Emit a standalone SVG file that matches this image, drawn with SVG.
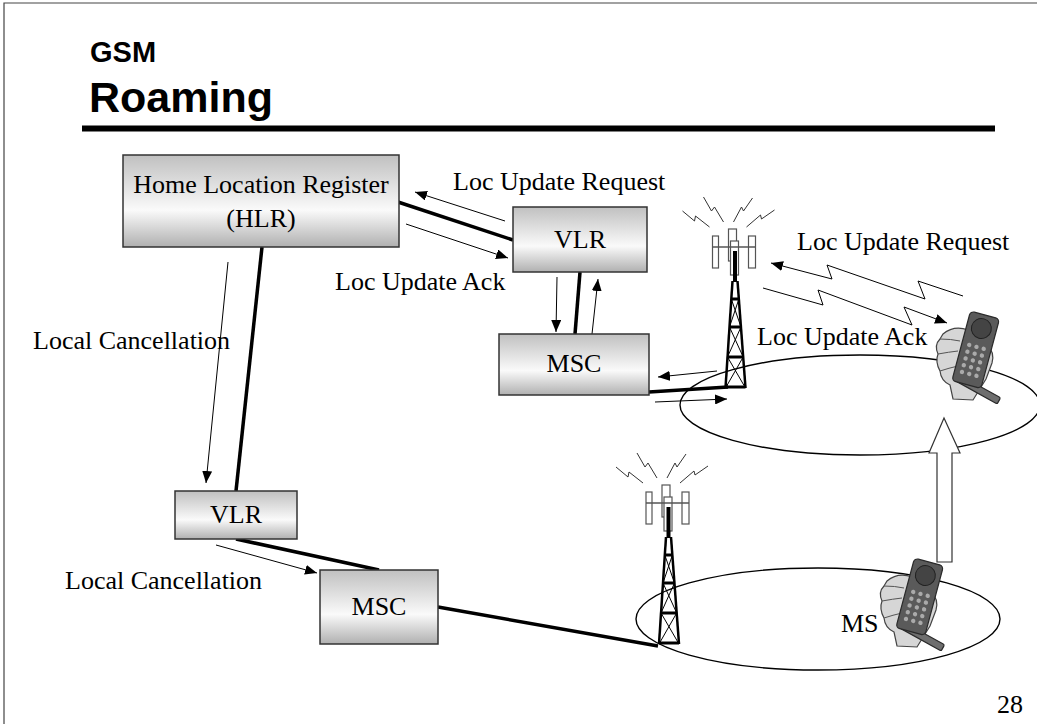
<svg xmlns="http://www.w3.org/2000/svg" width="1037" height="724" viewBox="0 0 1037 724">
<style>
.t{font-family:"Liberation Serif","Times New Roman",serif;font-size:26px;fill:#000}
.ttl{font-family:"Liberation Sans",Arial,sans-serif;font-weight:bold;fill:#000}
.box{fill:url(#boxg);stroke:#333;stroke-width:1.5}
.thick{stroke:#000;stroke-width:3.5;fill:none;stroke-linecap:butt}
.thin{stroke:#000;stroke-width:1;fill:none;marker-end:url(#ah)}
.ell{fill:none;stroke:#000;stroke-width:1.4}
.sq{fill:none;stroke:#333;stroke-width:1}
.pan{fill:#fff;stroke:#555;stroke-width:1.2}
</style>
<defs>
<linearGradient id="boxg" x1="0" y1="0" x2="0" y2="1">
<stop offset="0" stop-color="#c0c0c0"/>
<stop offset="0.6" stop-color="#fafafa"/>
<stop offset="1" stop-color="#b0b0b0"/>
</linearGradient>
<marker id="ah" viewBox="0 0 12 10" refX="12" refY="5" markerWidth="12" markerHeight="10" markerUnits="userSpaceOnUse" orient="auto">
<path d="M0,0 L12,5 L0,10 z" fill="#000"/>
</marker>
<g id="tower">
<polyline class="sq" points="-53,-177 -41,-167 -40,-172 -26,-161"/>
<polyline class="sq" points="-32,-191 -24,-177 -21,-181 -12,-166"/>
<polyline class="sq" points="17,-190 8,-177 6,-181 -2,-166"/>
<polyline class="sq" points="39,-178 26,-169 25,-173 11,-161"/>
<rect class="pan" x="-23" y="-152" width="6" height="32"/>
<rect class="pan" x="-7" y="-159" width="8" height="32"/>
<rect class="pan" x="13" y="-152" width="7" height="32"/>
<rect class="pan" x="-5" y="-147" width="8" height="34"/>
<line x1="-23" y1="-141" x2="20" y2="-141" stroke="#555" stroke-width="1.5"/>
<line x1="-0.5" y1="-137" x2="-0.5" y2="-106" stroke="#000" stroke-width="4"/>
<g stroke="#000" fill="none">
<line x1="-3" y1="-107" x2="-10" y2="0" stroke-width="2.5"/>
<line x1="2" y1="-107" x2="10" y2="0" stroke-width="2.5"/>
<line x1="-4.2" y1="-89" x2="3.4" y2="-89" stroke-width="3"/>
<line x1="-6" y1="-61" x2="5.5" y2="-61" stroke-width="3"/>
<line x1="-8" y1="-31" x2="7.7" y2="-31" stroke-width="3"/>
<line x1="-10" y1="-1" x2="10" y2="-1" stroke-width="3"/>
<line x1="-4.2" y1="-89" x2="5.5" y2="-61" stroke-width="1"/>
<line x1="3.4" y1="-89" x2="-6" y2="-61" stroke-width="1"/>
<line x1="-6" y1="-61" x2="7.7" y2="-31" stroke-width="1"/>
<line x1="5.5" y1="-61" x2="-8" y2="-31" stroke-width="1"/>
<line x1="-8" y1="-31" x2="10" y2="0" stroke-width="1"/>
<line x1="7.7" y1="-31" x2="-10" y2="0" stroke-width="1"/>
</g>
</g>
<g id="phone">
<path d="M943,334 Q954,325 968,330 L987,345 Q995,352 992,363 L986,379 L973,400 L953,399 L950,385 Q941,381 940,371 Q935,362 938,354 Q934,345 940,339 Z" fill="#d6d6d6" stroke="#444" stroke-width="1.2"/>
<path d="M938,354 Q949,352 958,351 M940,371 Q949,368 958,366 M940,339 Q951,339 960,341" fill="none" stroke="#555" stroke-width="1"/>
<g transform="translate(985,315) rotate(15)">
<g transform="translate(-10,68) rotate(14)"><rect x="0" y="-3.5" width="47" height="7" rx="1.5" fill="#6e6e6e" stroke="#2a2a2a" stroke-width="1.2"/></g>
<rect x="-15" y="0" width="30" height="72" rx="4" fill="#5a5a5a" stroke="#2a2a2a" stroke-width="1.2"/>
<circle cx="0" cy="14" r="10" fill="#444" stroke="#222" stroke-width="1"/>
<g fill="#aaa">
<circle cx="-7.5" cy="33" r="2.2"/><circle cx="0" cy="33" r="2.2"/><circle cx="7.5" cy="33" r="2.2"/>
<circle cx="-7.5" cy="40" r="2.2"/><circle cx="0" cy="40" r="2.2"/><circle cx="7.5" cy="40" r="2.2"/>
<circle cx="-7.5" cy="47" r="2.2"/><circle cx="0" cy="47" r="2.2"/><circle cx="7.5" cy="47" r="2.2"/>
<circle cx="-7.5" cy="54" r="2.2"/><circle cx="0" cy="54" r="2.2"/><circle cx="7.5" cy="54" r="2.2"/>
<circle cx="-7.5" cy="61" r="2.2"/><circle cx="0" cy="61" r="2.2"/><circle cx="7.5" cy="61" r="2.2"/>
</g>
</g>
</g>
</defs>

<rect width="1037" height="724" fill="#fff"/>
<path d="M4,724 L4,3 L1037,3" fill="none" stroke="#444" stroke-width="1.2"/>

<g id="title">
<text class="ttl" x="90" y="62" font-size="29">GSM</text>
<text class="ttl" x="89" y="112" font-size="43">Roaming</text>
<line x1="82" y1="128.5" x2="995" y2="128.5" stroke="#000" stroke-width="6"/>
</g>

<g id="cells">
<ellipse class="ell" cx="860" cy="405" rx="180" ry="50"/>
<ellipse class="ell" cx="818" cy="619" rx="182" ry="51"/>
</g>

<g id="connectors">
<line class="thick" x1="398" y1="202" x2="513" y2="240"/>
<line class="thick" x1="262" y1="247" x2="236" y2="491"/>
<line class="thick" x1="580" y1="272" x2="575" y2="334"/>
<line class="thick" x1="236" y1="539" x2="379" y2="570"/>
<line class="thick" x1="438" y1="607" x2="658" y2="646"/>
<line class="thick" x1="649" y1="392" x2="728" y2="387"/>
<line class="thin" x1="505" y1="221" x2="415" y2="192"/>
<line class="thin" x1="406" y1="224" x2="508" y2="258"/>
<line class="thin" x1="557" y1="277" x2="556" y2="332"/>
<line class="thin" x1="592" y1="334" x2="598" y2="279"/>
<line class="thin" x1="717" y1="371" x2="658" y2="377"/>
<line class="thin" x1="655" y1="402" x2="727" y2="399"/>
<line class="thin" x1="228" y1="262" x2="206" y2="483"/>
<line class="thin" x1="216" y1="545" x2="317" y2="573"/>
<polyline class="thin" points="963,296 918,281 925,299 827,265 832,279 771,263"/>
<polyline class="thin" points="763,288 823,305 818,290 912,325 904,307 947,323"/>
<polygon points="944,418 960,453 952,453 952,562 937,562 937,453 929,453" fill="#fff" stroke="#333" stroke-width="1.2"/>
</g>

<g id="hlr">
<rect class="box" x="123" y="155" width="276" height="92"/>
<text class="t" x="261" y="193" text-anchor="middle" font-size="26.5">Home Location Register</text>
<text class="t" x="261" y="227" text-anchor="middle" font-size="26.5">(HLR)</text>
</g>
<g id="vlr1">
<rect class="box" x="513" y="207" width="134" height="65"/>
<text class="t" x="580" y="248" text-anchor="middle">VLR</text>
</g>
<g id="msc1">
<rect class="box" x="499" y="334" width="150" height="61"/>
<text class="t" x="574" y="372" text-anchor="middle">MSC</text>
</g>
<g id="vlr2">
<rect class="box" x="175" y="491" width="122" height="48"/>
<text class="t" x="236" y="523" text-anchor="middle">VLR</text>
</g>
<g id="msc2">
<rect class="box" x="320" y="570" width="118" height="74"/>
<text class="t" x="379" y="615" text-anchor="middle">MSC</text>
</g>

<g id="tower1"><use href="#tower" transform="translate(735.5,388)"/></g>
<g id="tower2"><use href="#tower" transform="translate(669,644)"/></g>
<g id="ms1"><use href="#phone"/></g>
<g id="ms2"><use href="#phone" transform="translate(-56,247)"/></g>

<g id="labels">
<text class="t" x="453" y="190">Loc Update Request</text>
<text class="t" x="335" y="290">Loc Update Ack</text>
<text class="t" x="797" y="250">Loc Update Request</text>
<text class="t" x="757" y="345">Loc Update Ack</text>
<text class="t" x="33" y="349">Local Cancellation</text>
<text class="t" x="65" y="589">Local Cancellation</text>
<text class="t" x="841" y="632" font-size="22">MS</text>
<text class="t" x="1023" y="713" font-size="24" text-anchor="end">28</text>
</g>
</svg>
